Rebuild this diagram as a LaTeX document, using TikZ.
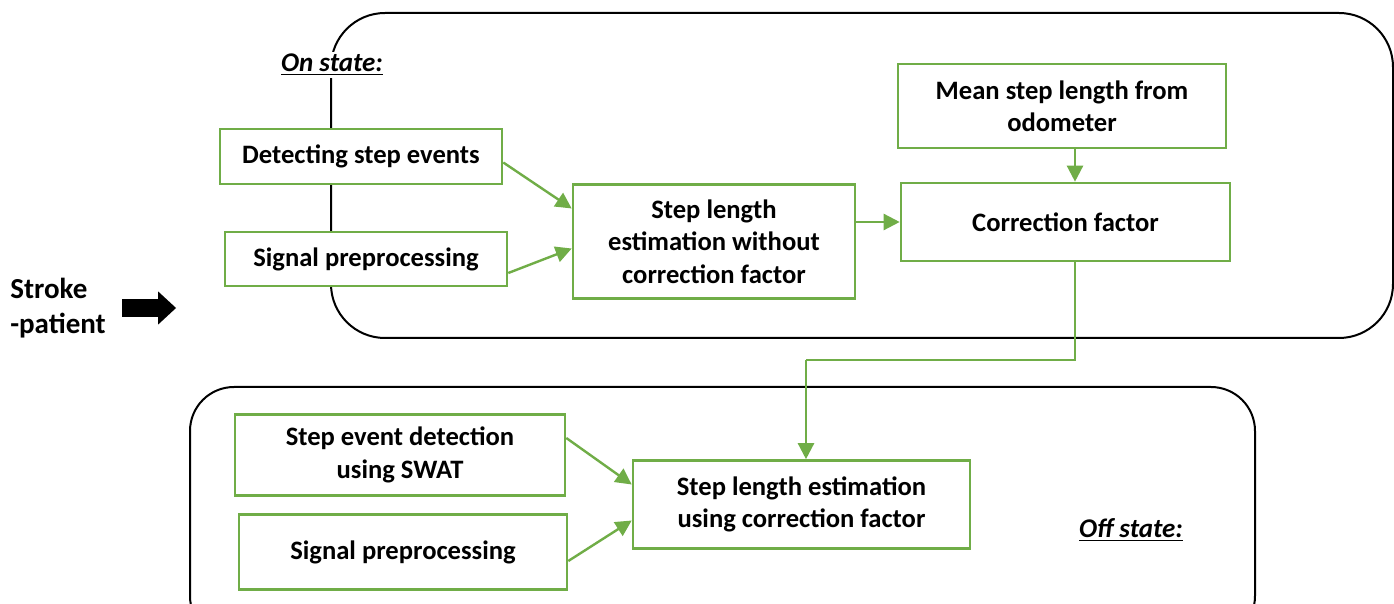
\documentclass[tikz,border=0pt]{standalone}
\usepackage{fontspec}
\setmainfont{Carlito}
\usetikzlibrary{arrows.meta,positioning}
\usetikzlibrary{calc}
\definecolor{boxgreen}{RGB}{112,173,71}

\begin{document}
\begin{tikzpicture}[
      x=0.5pt,y=-0.5pt,
      stepbox/.style={
         rectangle,
         draw=boxgreen,
         line width=1.3pt,
         fill=white,
         align=center,
         inner sep=2pt,
         font=\fontsize{13.3}{16.2}\selectfont\bfseries},
      flow/.style={draw=boxgreen,line width=1.2pt,-{Triangle[length=8pt,width=8pt]}},
      frame/.style={draw=black,line width=1pt,rounded corners=27pt},
      statelabel/.style={fill=white,inner sep=1pt,font=\fontsize{13.5}{16}\selectfont\bfseries\itshape}
      ]
      \useasboundingbox (0,0) rectangle (1394,604);

      % the two state frames
      \draw[frame] (331,13) rectangle (1393,338);
      \draw[frame,rounded corners=22pt] (190,387) rectangle (1255,640);

      % on state
      \node[stepbox,minimum width=141pt,minimum height=27.5pt] (detect) at (361,156.5) {Detecting step events};
      \node[stepbox,minimum width=141pt,minimum height=27pt] (sig1) at (366,259) {Signal preprocessing};
      \node[stepbox,minimum width=141pt,minimum height=57pt] (est1) at (714,241.5) {Step length\\estimation without\\correction factor};
      \node[stepbox,minimum width=164pt,minimum height=42pt] (odo) at (1062,106) {Mean step length from\\odometer};
      \node[stepbox,minimum width=164.5pt,minimum height=39pt] (cf) at (1065.5,222) {Correction factor};

      % off state
      \node[stepbox,minimum width=165pt,minimum height=40.5pt] (swat) at (400,455) {Step event detection\\using SWAT};
      \node[stepbox,minimum width=164pt,minimum height=37.5pt] (sig2) at (403,552) {Signal preprocessing};
      \node[stepbox,minimum width=168.5pt,minimum height=44pt] (est2) at (801.5,504.5) {Step length estimation\\using correction factor};

      \node[statelabel] (on) at (332,65) {\underline{On state:}};
      \node[statelabel] (off) at (1131,530) {\underline{Off state:}};
      \node[align=left,inner sep=3pt,font=\fontsize{14.5}{17.5}\selectfont\bfseries] (stroke) at (58,308) {Stroke\\-patient};

      \coordinate (drop) at (1075,0);
      \coordinate (bend) at (806,360);

      \draw[flow] ([yshift=-3pt]detect.east) -- ([yshift=16.5pt]est1.west);
      \draw[flow] ([yshift=-7pt]sig1.east) -- ([yshift=-3.5pt]est1.west);
      \draw[flow] (est1.east |- cf.west) -- (cf.west);
      \draw[flow] (odo.south -| drop) -- (cf.north -| drop);
      \draw[draw=boxgreen,line width=0.65pt] (cf.south -| drop) |- (bend);
      \draw[flow] (bend) -- (bend |- est2.north);
      \draw[flow] ([yshift=8.5pt]swat.east) -- ([yshift=10pt]est2.west);
      \draw[flow] ([yshift=-4.5pt]sig2.east) -- ([yshift=-8pt]est2.west);

      \draw[line width=9pt,-{Triangle[length=9pt,width=16pt]}] ([xshift=5pt]stroke.east) -- ++(54,0);

    \end{tikzpicture}
\end{document}
